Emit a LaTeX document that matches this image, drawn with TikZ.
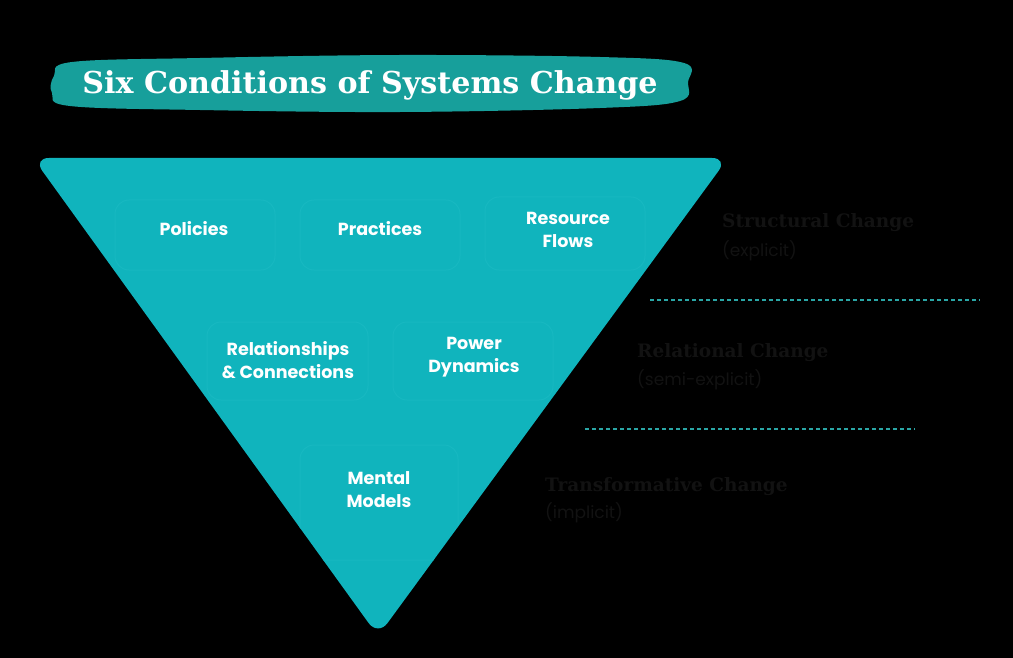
\documentclass[tikz,border=0pt]{standalone}
\usepackage{fontspec}
\setmainfont{DejaVu Serif}
\setsansfont{Poppins}
\usepackage{graphicx}
\definecolor{tri}{HTML}{10B4BD}
\definecolor{blob}{HTML}{179F9B}
\definecolor{boxline}{HTML}{17B8C1}
\definecolor{dim}{HTML}{121212}
\definecolor{dash}{HTML}{2AA6A6}
\tikzset{
  condbox/.style={draw=boxline, line width=1pt, rounded corners=14pt},
  condtext/.style={text=white, font=\sffamily\bfseries\fontsize{17.5}{23}\selectfont, align=center},
  levelhead/.style={text=dim, font=\bfseries\fontsize{18.5}{22}\selectfont, anchor=west, inner sep=0pt},
  levelsub/.style={text=dim, font=\sffamily\fontsize{17}{18}\selectfont, anchor=west, inner sep=0pt},
  divider/.style={draw=dash, line width=1.6pt, dash pattern=on 4pt off 3pt}
}
\begin{document}
\begin{tikzpicture}[x=1pt,y=-1pt]
\fill[black] (0,0) rectangle (1013,658);
\useasboundingbox (0,0) rectangle (1013,658);
% title blob
\fill[blob] plot[smooth cycle, tension=0.6] coordinates {(54,76) (72,62) (200,58) (400,55) (600,57) (684,63) (688,82) (680,101) (600,108) (400,112) (200,110) (70,106) (52,93)};
\node[text=white, inner sep=0pt] (title) at (370,85) {\resizebox{575pt}{!}{\bfseries Six Conditions of Systems Change}};
% triangle
\fill[tri, rounded corners=16pt] (33,158) -- (728,158) -- (378,636) -- cycle;
% faint boxes clipped to the triangle
\begin{scope}
\clip[rounded corners=16pt] (33,158) -- (728,158) -- (378,636) -- cycle;
\draw[condbox] (115,200) rectangle (275,270);
\draw[condbox] (300,200) rectangle (460,270);
\draw[condbox] (485,197) rectangle (645,270);
\draw[condbox] (207,322) rectangle (368,400);
\draw[condbox] (393,322) rectangle (553,400);
\draw[condbox] (300,445) rectangle (458,560);
\end{scope}
% labels
\node[condtext] (policies) at (194,229) {Policies};
\node[condtext] (practices) at (380,229) {Practices};
\node[condtext] (resource) at (568,230) {Resource\\Flows};
\node[condtext] (relations) at (288,360) {Relationships\\\& Connections};
\node[condtext] (power) at (474,357) {Power\\Dynamics};
\node[condtext] (mental) at (379,490) {Mental\\Models};
% right side
\node[levelhead] (struct) at (722,223) {Structural Change};
\node[levelsub] (structsub) at (722,251) {(explicit)};
\node[levelhead] (rel) at (637,353) {Relational Change};
\node[levelsub] (relsub) at (637,380) {(semi-explicit)};
\node[levelhead] (trans) at (545,487) {Transformative Change};
\node[levelsub] (transsub) at (545,513) {(implicit)};
\coordinate (d1a) at (650,300); \coordinate (d1b) at (980,300);
\coordinate (d2a) at (585,429); \coordinate (d2b) at (915,429);
\draw[divider] (d1a) -- (d1b);
\draw[divider] (d2a) -- (d2b);
\end{tikzpicture}
\end{document}
